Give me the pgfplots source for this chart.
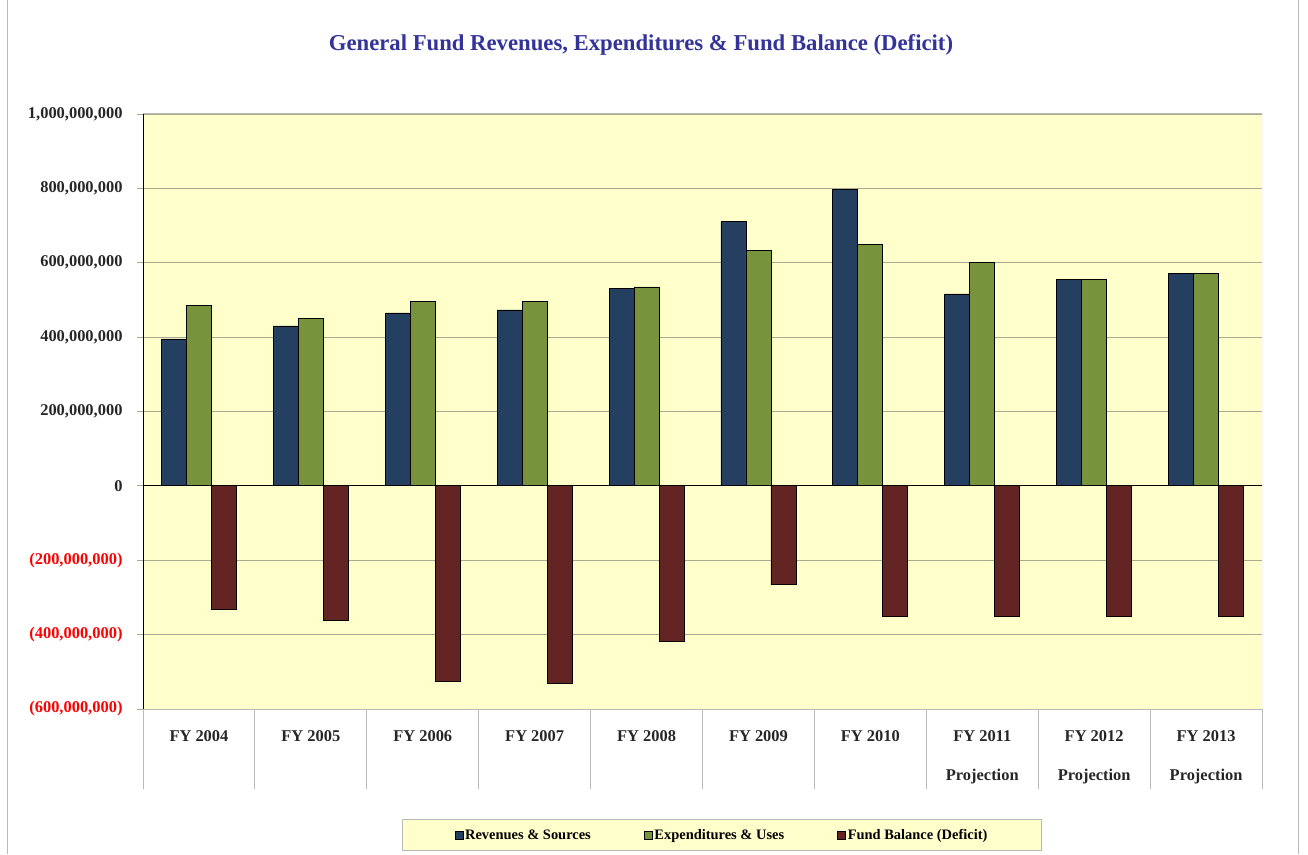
\documentclass[border=0pt]{standalone}
\usepackage{pgfplots}
\pgfplotsset{compat=1.18}
\usepackage{fontspec}
\setmainfont{Liberation Serif}
\definecolor{bgy}{RGB}{255,255,204}
\definecolor{revc}{RGB}{36,63,96}
\definecolor{expc}{RGB}{119,147,60}
\definecolor{fundc}{RGB}{99,37,35}
\definecolor{gridc}{RGB}{170,170,145}
\definecolor{titlec}{RGB}{51,51,153}
\definecolor{framec}{RGB}{185,185,185}
\begin{document}
\begin{tikzpicture}[x=1bp,y=1bp]
\path[use as bounding box] (0,0) rectangle (1308,854);
\draw[framec, line width=1bp] (7,0) -- (7,854);
\draw[framec, line width=1bp] (1298,0) -- (1298,854);
\node[font=\fontsize{22.8}{26}\selectfont\bfseries, text=titlec] at (641,809) {General Fund Revenues, Expenditures \& Fund Balance (Deficit)};
\begin{axis}[
  at={(143bp,145bp)}, anchor=south west,
  scale only axis, width=1119bp, height=595bp,
  ybar=0pt, bar width=25bp,
  xmin=-0.5, xmax=9.5, ymin=-600, ymax=1000,
  axis background/.style={fill=bgy},
  axis line style={draw=none},
  ymajorgrids, grid style={gridc, line width=0.8bp},
  ytick={-600,-400,-200,0,200,400,600,800,1000},
  yticklabels={\textcolor{red}{(600,000,000)},\textcolor{red}{(400,000,000)},\textcolor{red}{(200,000,000)},0,{200,000,000},{400,000,000},{600,000,000},{800,000,000},{1,000,000,000}},
  yticklabel style={font=\fontsize{16.5}{18}\selectfont\bfseries, text=black!85, xshift=-11bp},
  xtick={0,...,9},
  xticklabels={FY 2004,FY 2005,FY 2006,FY 2007,FY 2008,FY 2009,FY 2010,{FY 2011\\[21bp]Projection},{FY 2012\\[21bp]Projection},{FY 2013\\[21bp]Projection}},
  xticklabel style={font=\fontsize{16.5}{18}\selectfont\bfseries, text=black!85, align=center, anchor=north, yshift=-12bp},
  minor xtick={-0.5,0.5,...,9.5},
  xtick pos=bottom, ytick pos=left, tick align=outside,
  major x tick style={draw=none},
  minor x tick style={framec, line width=1bp},
  minor tick length=80bp,
  major tick length=6bp,
  y tick style={gridc, line width=0.8bp},
  legend columns=3,
  legend style={at={(0.5174,-0.2118)}, anchor=center, fill=bgy, draw=framec, line width=1bp,
    font=\fontsize{14.5}{16}\selectfont\bfseries, inner xsep=52bp, inner ysep=8bp,
    /tikz/every even column/.append style={column sep=51bp}},
  mylegend/.style={legend image code/.code={\draw[##1,draw=black,line width=0.6bp] (0bp,-4bp) rectangle (8bp,4bp);}},
]
\addplot[fill=revc, draw=black, line width=0.8bp, mylegend] coordinates {(0,395) (1,430) (2,465) (3,473) (4,530) (5,710) (6,798) (7,516) (8,554) (9,570)};
\addplot[fill=expc, draw=black, line width=0.8bp, mylegend] coordinates {(0,484) (1,449) (2,497) (3,497) (4,535) (5,634) (6,648) (7,600) (8,554) (9,570)};
\addplot[fill=fundc, draw=black, line width=0.8bp, mylegend] coordinates {(0,-333) (1,-363) (2,-527) (3,-530) (4,-417) (5,-266) (6,-352) (7,-352) (8,-352) (9,-352)};
\legend{Revenues \& Sources, Expenditures \& Uses, Fund Balance (Deficit)}
\draw[framec, line width=1bp] (rel axis cs:0,0) rectangle (rel axis cs:1,1);
\draw[black, line width=1bp] (rel axis cs:0,0) -- (rel axis cs:0,1);
\draw[black, line width=1bp] (axis cs:-0.5,0) -- (axis cs:9.5,0);
\end{axis}
\end{tikzpicture}
\end{document}
